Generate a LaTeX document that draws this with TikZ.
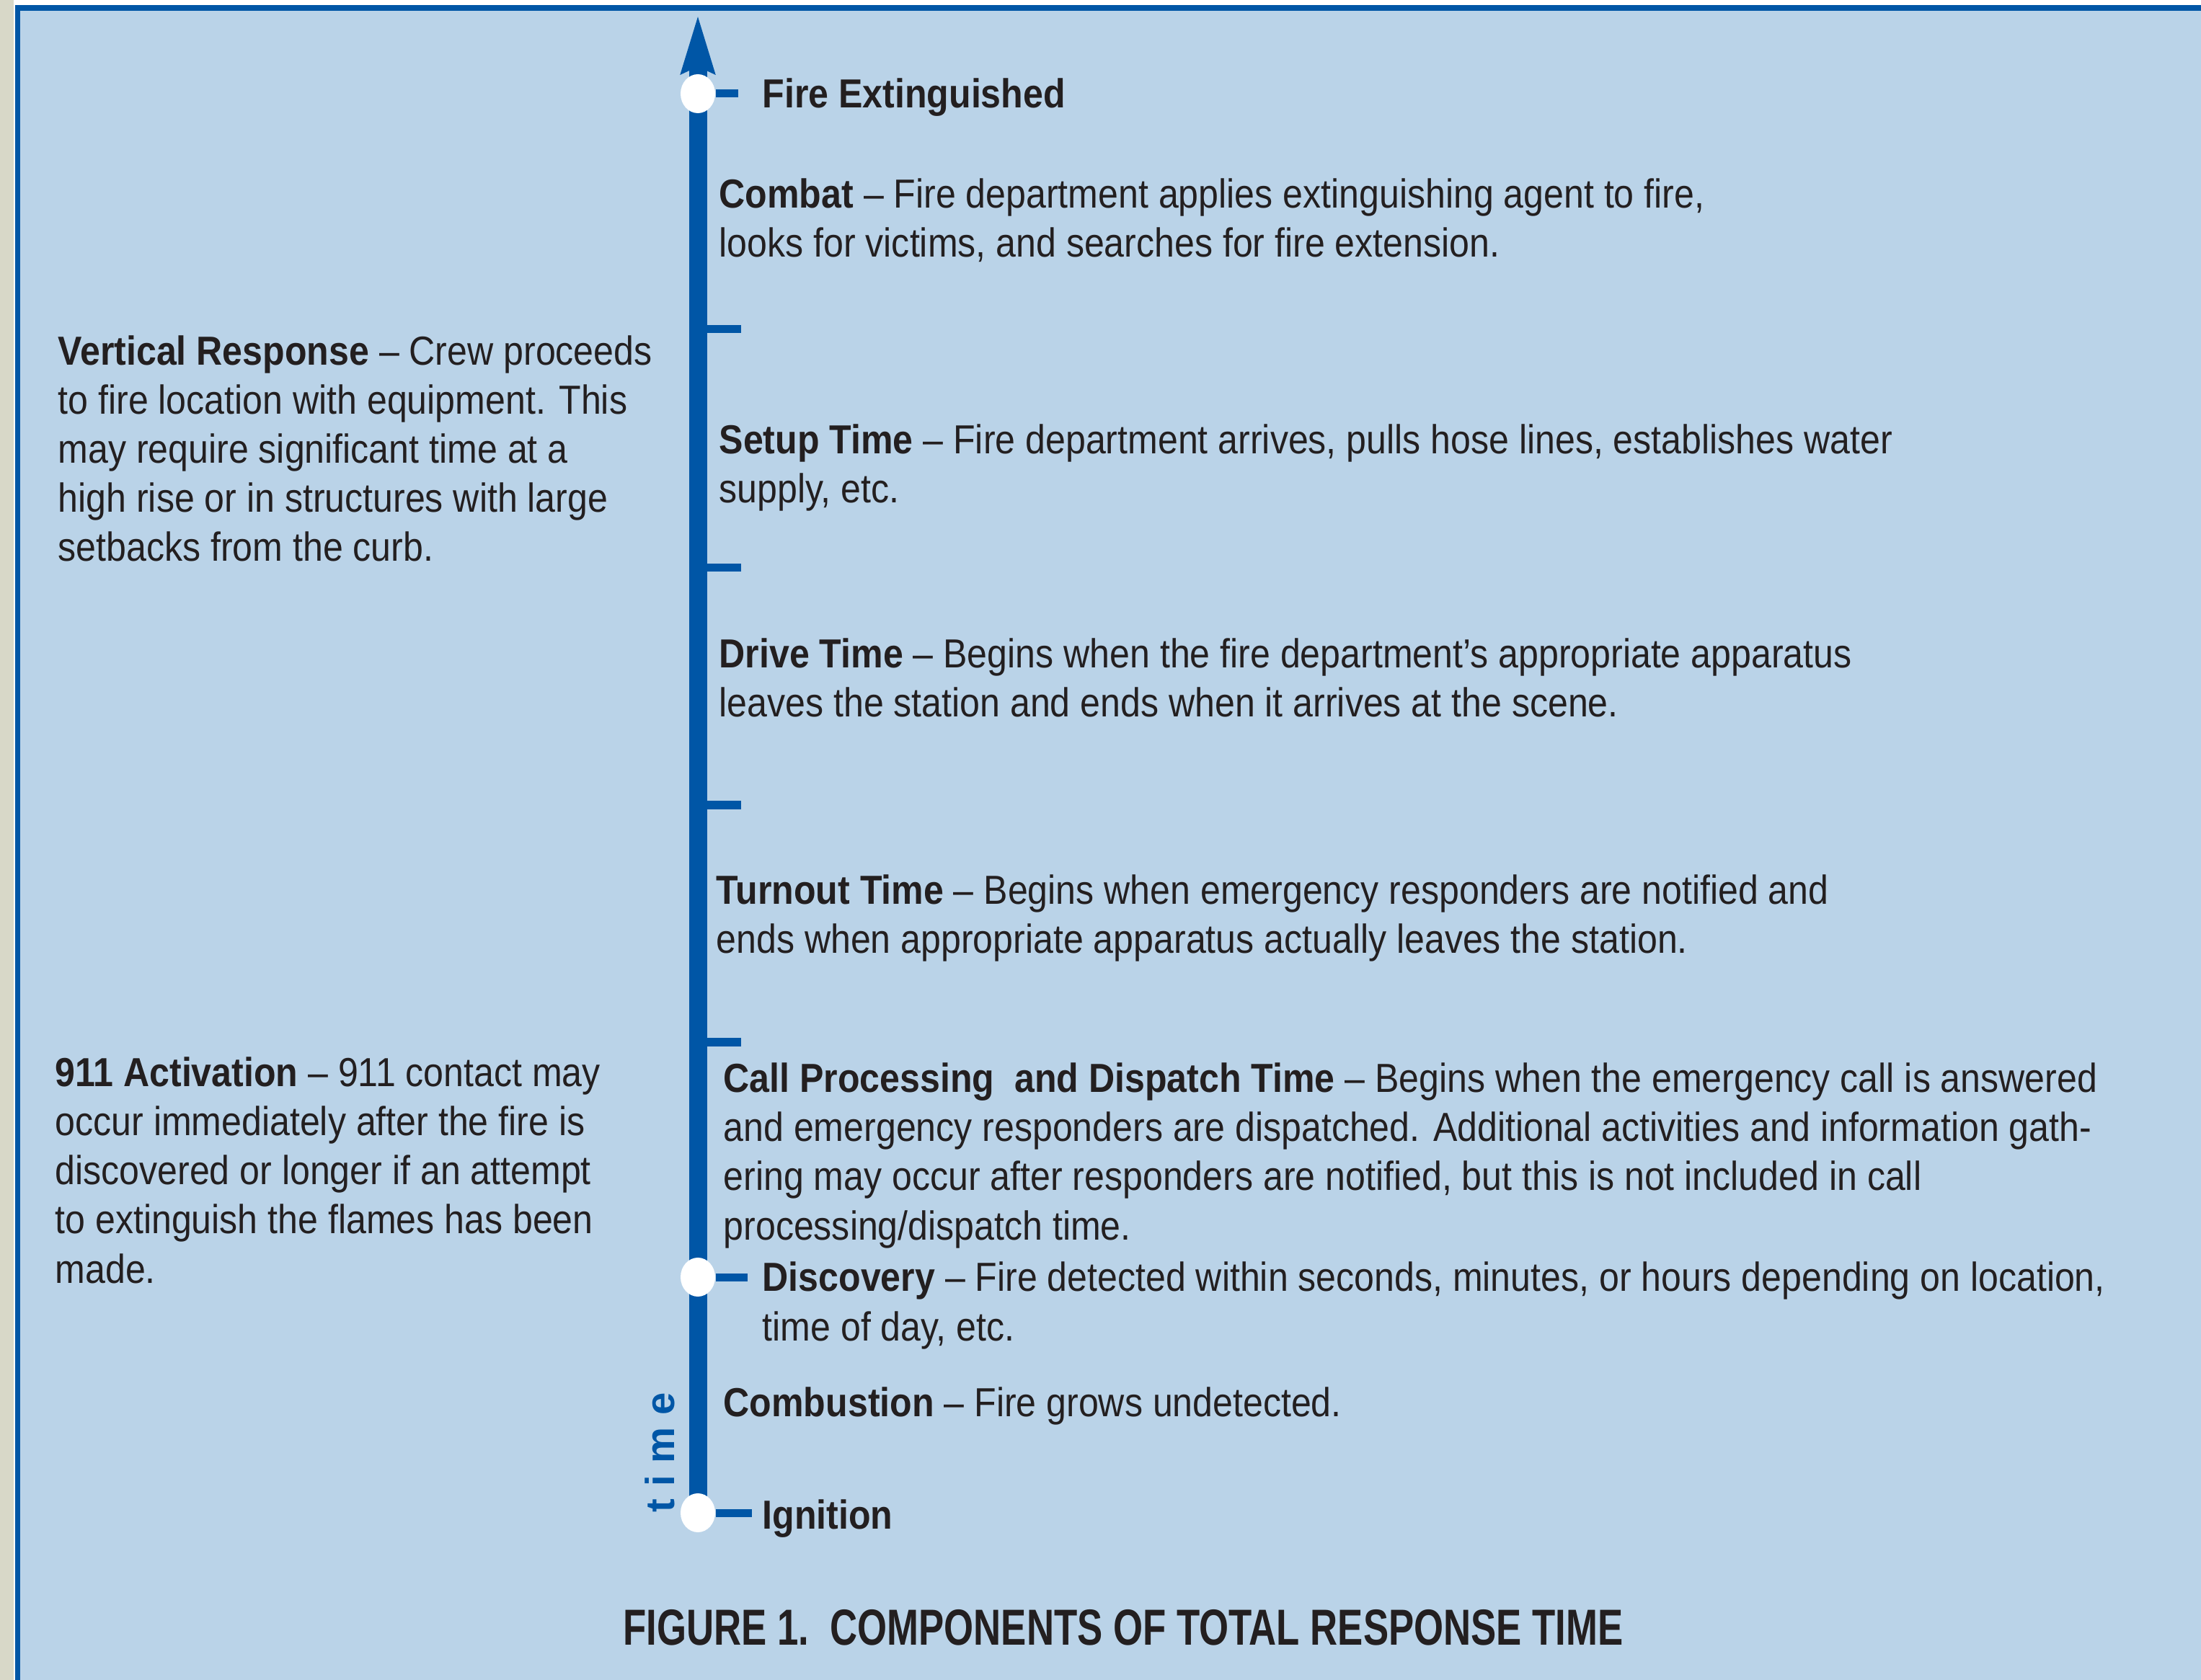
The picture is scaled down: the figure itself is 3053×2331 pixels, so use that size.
\documentclass[tikz,border=0pt]{standalone}
\usepackage{fontspec}
\setmainfont{Liberation Sans}[FakeStretch=0.89]
\newfontfamily\capfont{Liberation Sans}[FakeStretch=0.75]
\newfontfamily\axisfont{Liberation Sans}[LetterSpace=30]
\usetikzlibrary{arrows.meta, positioning, shapes.geometric, backgrounds}
\definecolor{axisblue}{RGB}{0,86,166}
\definecolor{panelblue}{RGB}{186,211,232}
\definecolor{edgebeige}{RGB}{216,216,200}
\definecolor{inkgrey}{RGB}{35,31,32}

\begin{document}
\begin{tikzpicture}[
  x=0.01cm, y=-0.01cm,
  phase/.style={anchor=base west, align=left, inner sep=0pt, text=inkgrey, font=\fontsize{16}{19.4}\selectfont},
  event/.style={ellipse, fill=white, minimum width=0.48cm, minimum height=0.54cm, inner sep=0pt},
  timeline/.style={line width=0.25cm, color=axisblue, -{Stealth[length=0.8cm, width=0.44cm, inset=0.08cm]}},
  tick/.style={line width=0.11cm, color=axisblue}
]
\useasboundingbox (0,0) rectangle (3053,2331);

% Events on the time axis
\node[event] (extinguished) at (968,130) {};
\node[event] (discovery) at (968,1772) {};
\node[event] (ignition) at (968,2099) {};
\coordinate (tip) at (968,20);

% Panel and axis behind the events
\begin{scope}[on background layer]
\fill[edgebeige] (0,0) rectangle (19,2331);
\fill[white] (19,0) rectangle (3053,7);
\fill[axisblue] (21,7) rectangle (3053,15);
\fill[axisblue] (21,7) rectangle (28,2331);
\fill[panelblue] (28,15) rectangle (3053,2331);
\draw[timeline] (ignition.center) -- (tip);
\end{scope}

% Ticks between phases
\coordinate (tk1) at (968,457);  \coordinate (tk1e) at (1028,457);
\coordinate (tk2) at (968,788);  \coordinate (tk2e) at (1028,788);
\coordinate (tk3) at (968,1117); \coordinate (tk3e) at (1028,1117);
\coordinate (tk4) at (968,1446); \coordinate (tk4e) at (1028,1446);
\draw[tick] (tk1) -- (tk1e);
\draw[tick] (tk2) -- (tk2e);
\draw[tick] (tk3) -- (tk3e);
\draw[tick] (tk4) -- (tk4e);

% Ticks at the events
\coordinate (extend) at (1024,130);
\coordinate (discend) at (1037,1772);
\coordinate (ignend) at (1043,2099);
\draw[tick] (extinguished.east) -- (extend);
\draw[tick] (discovery.east) -- (discend);
\draw[tick] (ignition.east) -- (ignend);

% Right column - phases (placed by the baseline of their last line)
\node[phase] (extlabel) at (1057,150) {\textbf{Fire Extinguished}};
\node[phase] (combat) at (997,357) {\textbf{Combat} – Fire department applies extinguishing agent to fire,\\looks for victims, and searches for fire extension.};
\node[phase] (setup) at (997,698) {\textbf{Setup Time} – Fire department arrives, pulls hose lines, establishes water\\supply, etc.};
\node[phase] (drive) at (997,995) {\textbf{Drive Time} – Begins when the fire department’s appropriate apparatus\\leaves the station and ends when it arrives at the scene.};
\node[phase] (turnout) at (993,1323) {\textbf{Turnout Time} – Begins when emergency responders are notified and\\ends when appropriate apparatus actually leaves the station.};
\node[phase] (dispatch) at (1003,1720) {\textbf{Call Processing\ \ and Dispatch Time} – Begins when the emergency call is answered\\and emergency responders are dispatched. Additional activities and information gath-\\ering may occur after responders are notified, but this is not included in call\\processing/dispatch time.};
\node[phase] (disclabel) at (1057,1860) {\textbf{Discovery} – Fire detected within seconds, minutes, or hours depending on location,\\time of day, etc.};
\node[phase] (combustion) at (1003,1965) {\textbf{Combustion} – Fire grows undetected.};
\node[phase] (ignlabel) at (1057,2121) {\textbf{Ignition}};

% Left column - notes
\node[phase] (vertical) at (80,779) {\textbf{Vertical Response} – Crew proceeds\\to fire location with equipment. This\\may require significant time at a\\high rise or in structures with large\\setbacks from the curb.};
\node[phase] (activation) at (76,1780) {\textbf{911 Activation} – 911 contact may\\occur immediately after the fire is\\discovered or longer if an attempt\\to extinguish the flames has been\\made.};

% Axis label and caption
\node[rotate=90, text=axisblue, font=\axisfont\bfseries\fontsize{16}{19}\selectfont] (timelabel) at (915,2015) {time};
\node[anchor=base, text=inkgrey, font=\capfont\bfseries\fontsize{20}{24}\selectfont] (caption) at (1558,2282) {FIGURE 1.\ \ COMPONENTS OF TOTAL RESPONSE TIME};

\end{tikzpicture}
\end{document}
